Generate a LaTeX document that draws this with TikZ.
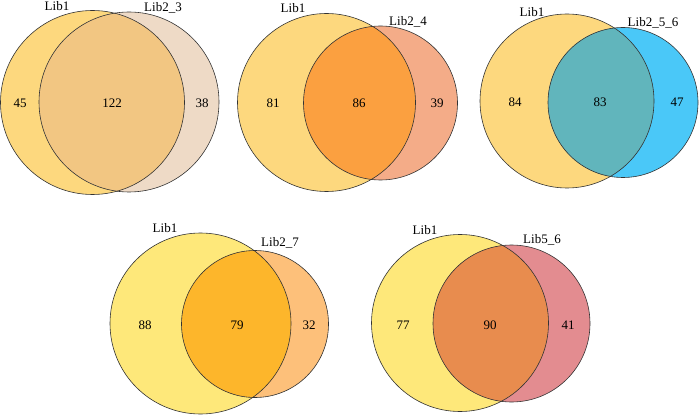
\documentclass[tikz,border=0pt]{standalone}
\usepackage{fontspec}
\setmainfont{Liberation Serif}
\usepackage{tikz}
\definecolor{libone}{HTML}{FDD87E}
\definecolor{libyel}{HTML}{FEE87A}
\definecolor{libtwothree}{HTML}{EEDAC6}
\definecolor{lapthree}{HTML}{F2C682}
\definecolor{libtwofour}{HTML}{F4AC88}
\definecolor{lapfour}{HTML}{FBA040}
\definecolor{libsix}{HTML}{4AC8F8}
\definecolor{lapsix}{HTML}{61B5BC}
\definecolor{libseven}{HTML}{FDC07A}
\definecolor{lapseven}{HTML}{FDB62B}
\definecolor{libfive}{HTML}{E38C90}
\definecolor{lapfive}{HTML}{E88C4E}
\tikzset{
  rim/.style={draw=black!80, line width=0.6pt},
  setname/.style={font=\fontsize{13}{15}\selectfont, inner sep=0pt},
  count/.style={font=\fontsize{13}{15}\selectfont, inner sep=0pt}
}

\begin{document}
\begin{tikzpicture}[x=1pt, y=1pt]
  \useasboundingbox (0,0) rectangle (700,415);
  % Lib1 vs Lib2_3
  \fill[libone] (92.5,312.5) circle (92);
  \fill[libtwothree] (129,313) circle (90);
  \begin{scope}
    \clip (92.5,312.5) circle (92);
    \fill[lapthree] (129,313) circle (90);
  \end{scope}
  \draw[rim] (92.5,312.5) circle (92);
  \draw[rim] (129,313) circle (90);
  \node[setname] (a1) at (57,409) {Lib1};
  \node[setname] (a2) at (163,407) {Lib2\_3};
  \node[count] (na1) at (20,312) {45};
  \node[count] (na12) at (112,312) {122};
  \node[count] (na2) at (202,312) {38};
  % Lib1 vs Lib2_4
  \fill[libone] (326.5,312.5) circle (89);
  \fill[libtwofour] (380.5,312) circle (77);
  \begin{scope}
    \clip (326.5,312.5) circle (89);
    \fill[lapfour] (380.5,312) circle (77);
  \end{scope}
  \draw[rim] (326.5,312.5) circle (89);
  \draw[rim] (380.5,312) circle (77);
  \node[setname] (b1) at (293,407) {Lib1};
  \node[setname] (b2) at (408,393) {Lib2\_4};
  \node[count] (nb1) at (273,312) {81};
  \node[count] (nb12) at (359,312) {86};
  \node[count] (nb2) at (437,312) {39};
  % Lib1 vs Lib2_5_6
  \fill[libone] (567,314) circle (87);
  \fill[libsix] (623,312.5) circle (75);
  \begin{scope}
    \clip (567,314) circle (87);
    \fill[lapsix] (623,312.5) circle (75);
  \end{scope}
  \draw[rim] (567,314) circle (87);
  \draw[rim] (623,312.5) circle (75);
  \node[setname] (c1) at (532,403) {Lib1};
  \node[setname] (c2) at (653,392) {Lib2\_5\_6};
  \node[count] (nc1) at (515,313) {84};
  \node[count] (nc12) at (600,313) {83};
  \node[count] (nc2) at (677,313) {47};
  % Lib1 vs Lib2_7
  \fill[libyel] (200.5,91.5) circle (90.5);
  \fill[libseven] (255,91) circle (73.5);
  \begin{scope}
    \clip (200.5,91.5) circle (90.5);
    \fill[lapseven] (255,91) circle (73.5);
  \end{scope}
  \draw[rim] (200.5,91.5) circle (90.5);
  \draw[rim] (255,91) circle (73.5);
  \node[setname] (d1) at (165,187) {Lib1};
  \node[setname] (d2) at (280,172) {Lib2\_7};
  \node[count] (nd1) at (145,90) {88};
  \node[count] (nd12) at (237,90) {79};
  \node[count] (nd2) at (309,90) {32};
  % Lib1 vs Lib5_6
  \fill[libyel] (460,92) circle (88.5);
  \fill[libfive] (511.5,91.5) circle (78.5);
  \begin{scope}
    \clip (460,92) circle (88.5);
    \fill[lapfive] (511.5,91.5) circle (78.5);
  \end{scope}
  \draw[rim] (460,92) circle (88.5);
  \draw[rim] (511.5,91.5) circle (78.5);
  \node[setname] (e1) at (425,185) {Lib1};
  \node[setname] (e2) at (542,175) {Lib5\_6};
  \node[count] (ne1) at (403,90) {77};
  \node[count] (ne12) at (490,90) {90};
  \node[count] (ne2) at (568,90) {41};
\end{tikzpicture}
\end{document}
